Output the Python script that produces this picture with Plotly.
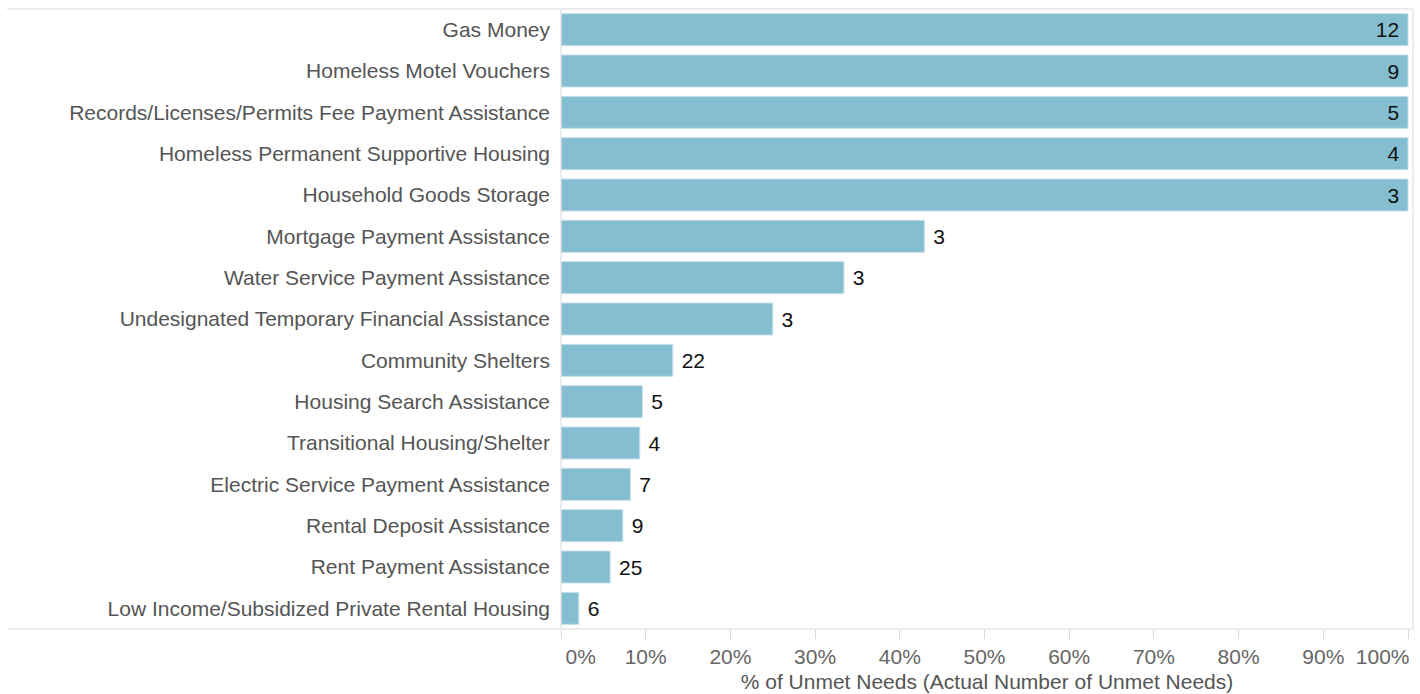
import plotly.graph_objects as go

categories = [
    "Gas Money",
    "Homeless Motel Vouchers",
    "Records/Licenses/Permits Fee Payment Assistance",
    "Homeless Permanent Supportive Housing",
    "Household Goods Storage",
    "Mortgage Payment Assistance",
    "Water Service Payment Assistance",
    "Undesignated Temporary Financial Assistance",
    "Community Shelters",
    "Housing Search Assistance",
    "Transitional Housing/Shelter",
    "Electric Service Payment Assistance",
    "Rental Deposit Assistance",
    "Rent Payment Assistance",
    "Low Income/Subsidized Private Rental Housing",
]
pct_unmet = [100, 100, 100, 100, 100, 42.9, 33.4, 25.0, 13.2, 9.6, 9.3, 8.2, 7.3, 5.8, 2.1]
unmet_counts = [12, 9, 5, 4, 3, 3, 3, 3, 22, 5, 4, 7, 9, 25, 6]

tick_vals = [0, 10, 20, 30, 40, 50, 60, 70, 80, 90, 100]
tick_text = ["0%", "10%", "20%", "30%", "40%", "50%", "60%", "70%", "80%", "90%", "100%"]

NB = "\u00a0"
# middle ticks on main axis; the end labels are drawn on overlay axes aligned inward
mid_text = [""] + tick_text[1:-1] + [""]

inside = [p >= 99.5 for p in pct_unmet]
bar_text = [f"{c}{NB}" if ins else f"{NB}{c}" for c, ins in zip(unmet_counts, inside)]
text_pos = ["inside" if ins else "outside" for ins in inside]

FONT = "Liberation Sans, Arial, Helvetica, sans-serif"
FS = 21

fig = go.Figure()
fig.add_trace(
    go.Bar(
        y=categories,
        x=pct_unmet,
        orientation="h",
        marker=dict(color="#84bed0", line=dict(color="#c6e0ea", width=1)),
        text=bar_text,
        textposition=text_pos,
        insidetextanchor="end",
        textfont=dict(family=FONT, size=FS, color="#111111"),
        insidetextfont=dict(family=FONT, size=FS, color="#111111"),
        outsidetextfont=dict(family=FONT, size=FS, color="#111111"),
        cliponaxis=False,
        constraintext="none",
        hoverinfo="skip",
    )
)
# empty traces so the overlay axes are registered
fig.add_trace(go.Scatter(x=[], y=[], xaxis="x2", yaxis="y", showlegend=False, hoverinfo="skip"))
fig.add_trace(go.Scatter(x=[], y=[], xaxis="x3", yaxis="y", showlegend=False, hoverinfo="skip"))

L, R, T, B = 561, 7, 9, 65
W = 1420 - L - R
left_px = 7
x_left_paper = -(L - left_px) / W
line_col = "#d9d9d9"
x_range = [0, 100 * W / 847]

common_x = dict(
    range=x_range,
    ticks="outside",
    ticklen=9,
    tickcolor=line_col,
    tickwidth=1,
    ticklabeloverflow="allow",
    showgrid=False,
    zeroline=False,
    showline=False,
    tickfont=dict(family=FONT, size=FS, color="#666666"),
    fixedrange=True,
)

fig.update_layout(
    width=1420,
    height=694,
    margin=dict(l=L, r=R, t=T, b=B, autoexpand=False),
    plot_bgcolor="white",
    paper_bgcolor="white",
    bargap=0.226,
    showlegend=False,
    font=dict(family=FONT, size=FS, color="#555555"),
    xaxis=dict(
        **common_x,
        tickvals=tick_vals,
        ticktext=mid_text,
        title=dict(
            text="% of Unmet Needs (Actual Number of Unmet Needs)",
            font=dict(family=FONT, size=FS, color="#555555"),
            standoff=7,
        ),
    ),
    xaxis2=dict(
        **common_x,
        overlaying="x",
        anchor="y",
        side="bottom",
        tickvals=[tick_vals[-1]],
        ticktext=[tick_text[-1]],
        ticklabelposition="outside left",
        ticklabelstandoff=9,
        ticklabelshift=2,
    ),
    xaxis3=dict(
        **common_x,
        overlaying="x",
        anchor="y",
        side="bottom",
        tickvals=[tick_vals[0]],
        ticktext=[tick_text[0]],
        ticklabelposition="outside right",
        ticklabelstandoff=9,
        ticklabelshift=4,
    ),
    yaxis=dict(
        autorange="reversed",
        showgrid=False,
        zeroline=False,
        showline=False,
        ticks="",
        ticklabelstandoff=10,
        tickfont=dict(family=FONT, size=FS, color="#555555"),
        fixedrange=True,
    ),
    shapes=[
        dict(type="line", xref="paper", yref="paper", x0=x_left_paper, x1=1, y0=1, y1=1,
             line=dict(color=line_col, width=1)),
        dict(type="line", xref="paper", yref="paper", x0=x_left_paper, x1=1, y0=0, y1=0,
             line=dict(color=line_col, width=1)),
        dict(type="line", xref="paper", yref="paper", x0=0, x1=0, y0=0, y1=1,
             line=dict(color=line_col, width=1)),
        dict(type="line", xref="paper", yref="paper", x0=1, x1=1, y0=0, y1=1,
             line=dict(color=line_col, width=1)),
    ],
)

fig.write_html("out.html", config={"displayModeBar": False})

# remove the default page margin so the figure sits at the window's top-left
with open("out.html", "r", encoding="utf-8") as f:
    html = f.read()
html = html.replace("<head>", "<head><style>html,body{margin:0;padding:0;overflow:hidden;}</style>", 1)
with open("out.html", "w", encoding="utf-8") as f:
    f.write(html)
